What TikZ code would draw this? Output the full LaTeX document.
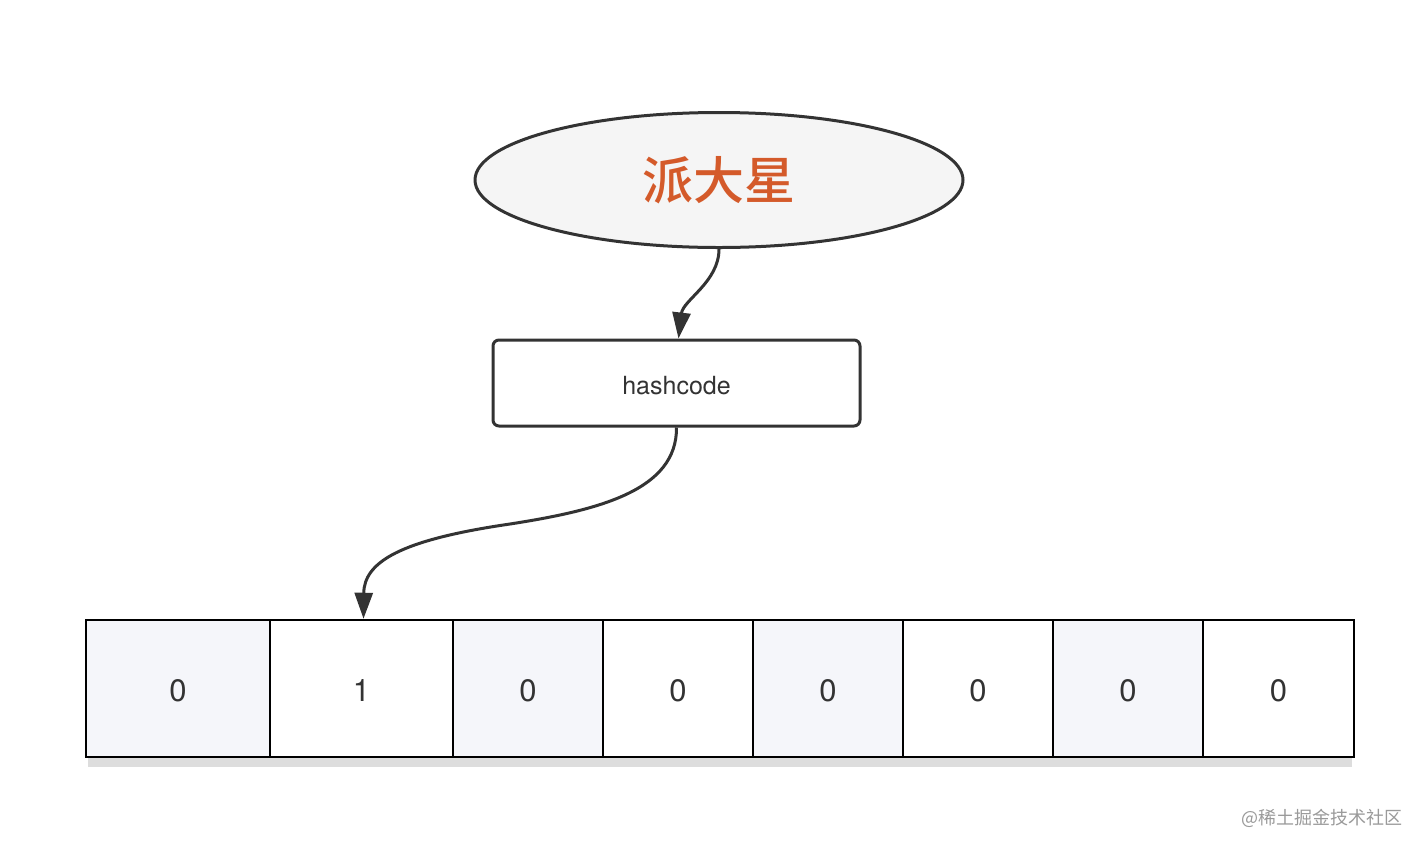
\documentclass[tikz,border=0pt]{standalone}
\usepackage{fontspec}
\setmainfont{TeX Gyre Heros}
\newfontfamily\cjk{Noto Sans CJK SC}
\newfontfamily\cjkb{Noto Sans CJK SC Medium}
\usetikzlibrary{shapes.geometric,arrows.meta}
\definecolor{ink}{HTML}{333333}
\definecolor{titleor}{HTML}{D45A2A}
\definecolor{ellfill}{HTML}{F5F5F5}
\definecolor{cellfill}{HTML}{F5F6FA}
\definecolor{shadowgr}{HTML}{DDDDDD}
\definecolor{wmark}{HTML}{9A9A9A}
\tikzset{
  conn/.style={draw=ink, line width=3pt, -{Triangle[length=26pt,width=18pt]}},
  cellbox/.style={draw=black, line width=2.5pt, minimum height=137pt, inner sep=0pt, font=\fontsize{31}{36}\selectfont, text=ink, text height=26pt, text depth=0pt},
  shade/.style={cellbox, fill=cellfill},
  plain/.style={cellbox, fill=white},
}
\begin{document}
\begin{tikzpicture}[x=1pt,y=-1pt]
\useasboundingbox (0,0) rectangle (1426,852);
\fill[white] (0,0) rectangle (1426,852);
% ellipse
\node[ellipse, draw=ink, line width=3pt, fill=ellfill, minimum width=488pt, minimum height=135pt, inner sep=0pt,
      text=titleor, font=\cjkb\fontsize{51}{58}\selectfont] (e) at (719,180) {派大星};
% hashcode box
\node[draw=ink, line width=3pt, rounded corners=6pt, fill=white, minimum width=367pt, minimum height=86pt, inner sep=0pt,
      text=ink, font=\fontsize{25}{30}\selectfont, text height=22pt, text depth=0pt] (h) at (676.5,383) {hashcode};
% shadow
\fill[shadowgr] (88,757) rectangle (1352,767);
% cells
\node[shade, minimum width=184pt] (c0) at (178,688.5) {0};
\node[plain, minimum width=183pt] (c1) at (361.5,688.5) {1};
\node[shade, minimum width=150pt] (c2) at (528,688.5) {0};
\node[plain, minimum width=150pt] (c3) at (678,688.5) {0};
\node[shade, minimum width=150pt] (c4) at (828,688.5) {0};
\node[plain, minimum width=150pt] (c5) at (978,688.5) {0};
\node[shade, minimum width=150pt] (c6) at (1128,688.5) {0};
\node[plain, minimum width=151pt] (c7) at (1278.5,688.5) {0};
% connectors
\draw[conn] (e.south) .. controls (719,282) and (683,300) .. ([xshift=2pt]h.north);
\draw[conn] (h.south) .. controls (677,490) and (600,510) .. (510,524) .. controls (400,540) and (364,562) .. ([xshift=2pt]c1.north);
% watermark
\node[text=wmark, font=\cjk\fontsize{18}{22}\selectfont, anchor=east, inner sep=0pt] (wm) at (1403,818) {@稀土掘金技术社区};
\end{tikzpicture}
\end{document}
